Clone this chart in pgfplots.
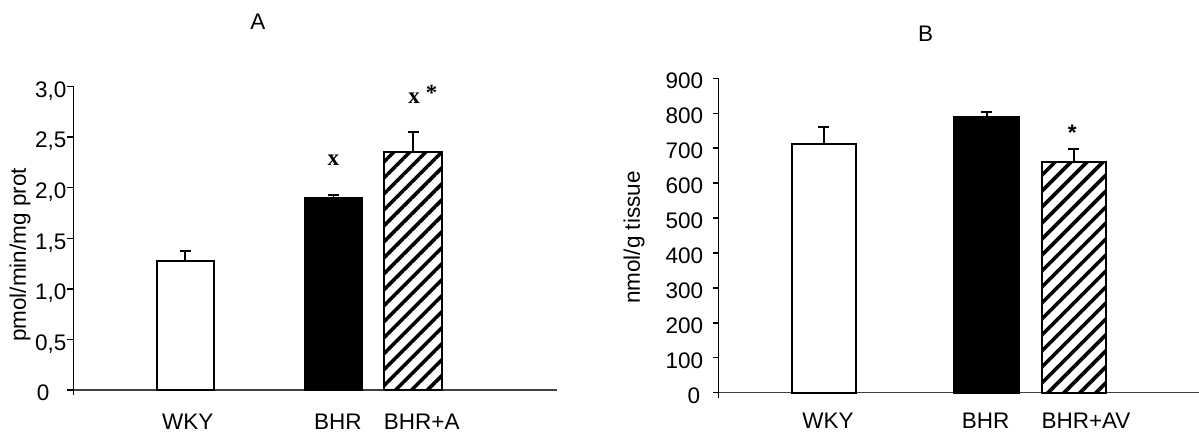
\documentclass[border=0pt]{standalone}
\usepackage{fontspec}
\setmainfont{Liberation Sans}
\newfontfamily\timesf{Liberation Serif}
\usepackage{pgfplots}
\pgfplotsset{compat=1.18}
\usetikzlibrary{patterns.meta}

\begin{document}
\fontsize{22.5}{26}\selectfont
\begin{tikzpicture}
\path[use as bounding box] (0,0) rectangle (1199pt,434pt);
\pgfplotsset{
  panel/.style={
    scale only axis, clip=false,
    axis x line=bottom, axis y line=left,
    x axis line style={-, draw=black!75, line width=1.5pt},
    y axis line style={-, draw=black, line width=1.4pt},
    ytick style={draw=black, line width=1.4pt},
    xtick style={draw=none},
    tick align=outside,
    extra x ticks={0}, extra x tick labels={},
    extra x tick style={xtick style={draw=black, line width=1.4pt}, major tick length=5pt},
    xticklabel style={anchor=base, inner sep=0pt},
    yticklabel style={anchor=base east, inner sep=0pt},
    /pgf/number format/assume math mode=true,
    ybar, bar shift=0pt,
    error bars/y dir=plus, error bars/y explicit,
    error bars/error bar style={line width=1.8pt, black},
    error bars/error mark options={rotate=90, mark size=5.5pt, line width=1.8pt, black},
  },
  hatch/.style={draw=black, line width=1.8pt, pattern={Lines[angle=45,distance=11.3pt,line width=3.6pt]}, pattern color=black},
}
% Panel A
\begin{axis}[panel,
  at={(73.5pt,44pt)}, anchor=south west,
  width=483.5pt, height=303.5pt,
  xmin=0, xmax=483.5, ymin=0, ymax=3,
  major tick length=6.6pt,
  ytick={0,0.5,1,1.5,2,2.5,3},
  yticklabels={0\hspace*{17pt},{0,5},{1,0},{1,5},{2,0},{2,5},{3,0}},
  yticklabel style={xshift=-0.2pt, yshift=-10.8pt},
  xtick={114.2,264.3,348.2},
  xticklabels={WKY,BHR,BHR+A},
  xticklabel style={yshift=-32.9pt},
  ylabel={pmol/min/mg prot},
  ylabel style={at={(axis description cs:-0.1107,0.445)}, anchor=center, inner sep=0pt},
]
\addplot[fill=white, draw=black, line width=1.8pt, bar width=57] coordinates {(111.8,1.275) +- (0,0.10)};
\addplot[fill=black, draw=black, line width=1.8pt, bar width=58] coordinates {(260,1.897) +- (0,0.033)};
\addplot[hatch, bar width=58.5] coordinates {(339.5,2.352) +- (0,0.198)};
\node[font=\timesf\bfseries\fontsize{23}{26}\selectfont, inner sep=0pt] at (axis cs:259.8,2.273) {x};
\node[font=\timesf\bfseries\fontsize{23}{26}\selectfont, inner sep=0pt] at (axis cs:340.5,2.88) {x};
\node[font=\timesf\bfseries\fontsize{23}{26}\selectfont, inner sep=0pt, anchor=north] at (axis cs:358.2,3.014) {*};
\end{axis}
% Panel B
\begin{axis}[panel,
  at={(718.3pt,41.3pt)}, anchor=south west,
  width=480.7pt, height=314.4pt,
  xmin=0, xmax=480.7, ymin=0, ymax=900,
  major tick length=5.3pt,
  ytick={0,100,...,900},
  yticklabels={0\hspace*{3pt},100,200,300,400,500,600,700,800,900},
  yticklabel style={xshift=-9.7pt, yshift=-10.3pt},
  xtick={109.7,267.2,367.7},
  xticklabels={WKY,BHR,BHR+AV},
  xticklabel style={yshift=-30.7pt},
  ylabel={nmol/g tissue},
  ylabel style={at={(axis description cs:-0.1754,0.4936)}, anchor=center, inner sep=0pt},
]
\addplot[fill=white, draw=black, line width=1.8pt, bar width=64.3] coordinates {(105.5,712) +- (0,49.5)};
\addplot[fill=black, draw=black, line width=1.8pt, bar width=65] coordinates {(268.4,788.4) +- (0,16)};
\addplot[hatch, bar width=64.3] coordinates {(355.6,661.3) +- (0,36.3)};
\node[font=\bfseries, inner sep=0pt, anchor=north] at (axis cs:354,768) {*};
\end{axis}
\node at (257.8pt,412.3pt) {A};
\node at (925.5pt,400.7pt) {B};
\end{tikzpicture}
\end{document}
